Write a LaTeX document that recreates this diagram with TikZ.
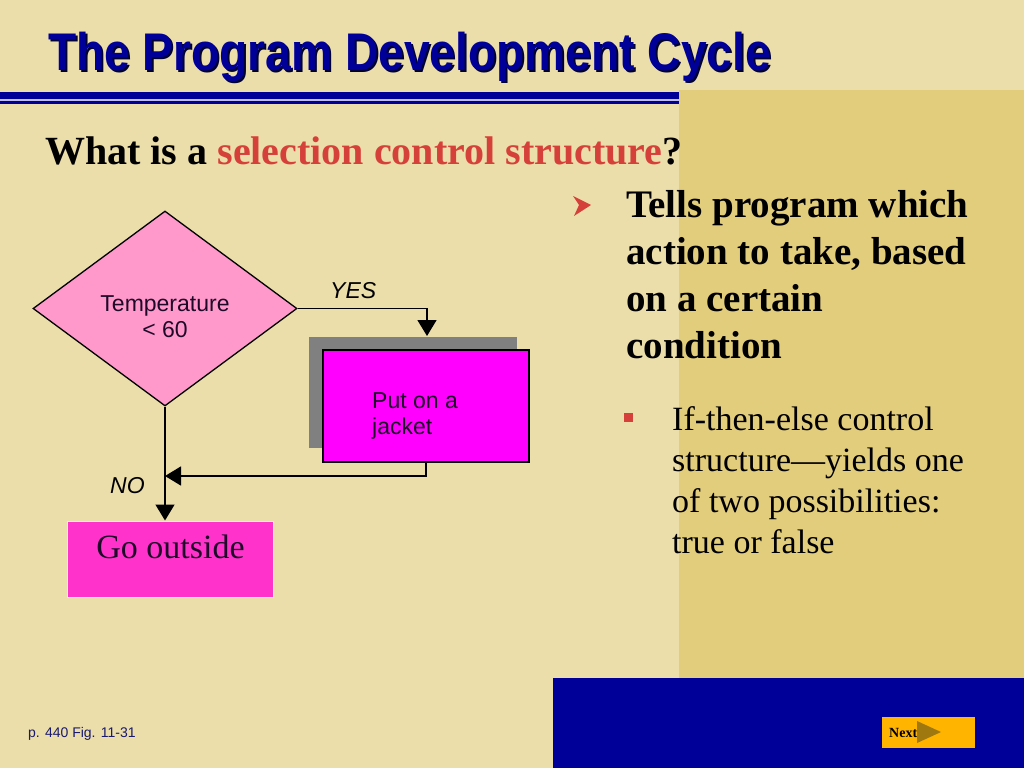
\documentclass[tikz,border=0pt]{standalone}
\usepackage{fontspec}
\setmainfont{Liberation Serif}
\setsansfont{Liberation Sans}
\usepackage{graphicx}
\usetikzlibrary{arrows.meta,shapes.geometric}

\definecolor{slidebg}{RGB}{235,222,170}
\definecolor{slidepanel}{RGB}{226,205,124}
\definecolor{slideblue}{RGB}{0,0,153}
\definecolor{titleshadow}{RGB}{0,0,50}
\definecolor{accentred}{RGB}{214,64,58}
\definecolor{condpink}{RGB}{255,153,204}
\definecolor{jacketmag}{RGB}{255,0,255}
\definecolor{outsidemag}{RGB}{255,51,204}
\definecolor{outsideline}{RGB}{255,225,240}
\definecolor{shadowgray}{RGB}{128,128,128}
\definecolor{nextorange}{RGB}{255,180,0}
\definecolor{nextarrow}{RGB}{160,120,16}
\definecolor{notenavy}{RGB}{25,25,110}
\definecolor{darktext}{RGB}{30,10,40}

\newcommand{\fsz}[2]{\fontsize{#1bp}{#2bp}\selectfont}

\begin{document}
\begin{tikzpicture}[x=1bp,y=-1bp]
\tikzset{
  decision/.style={diamond,draw=black,line width=1.3bp,fill=condpink,inner sep=0pt,minimum width=264bp,minimum height=195bp},
  process/.style={rectangle,draw=black,line width=1.5bp,fill=jacketmag,inner sep=0pt,minimum width=206bp,minimum height=112bp},
  terminal/.style={rectangle,draw=outsideline,line width=1bp,fill=outsidemag,inner sep=0pt,minimum width=205bp,minimum height=76bp},
  boxtext/.style={inner sep=0pt,align=left,text=darktext,font=\sffamily\fsz{23}{26}},
  branchlabel/.style={inner sep=0pt,anchor=base west,font=\sffamily\itshape\fsz{23}{26}},
  flow/.style={draw=black,line width=1.5bp,-{Triangle[length=16bp,width=19bp]}},
  pointtext/.style={inner sep=0pt,anchor=base west,align=left}
}
% background and panels
\fill[slidebg] (0,0) rectangle (1024,768);
\fill[slidepanel] (679,90) rectangle (1024,678);
\fill[slideblue] (553,678) rectangle (1024,768);
\fill[slideblue] (0,92) rectangle (679,99);
\fill[white!75!slideblue] (0,99) rectangle (679,101);
\fill[slideblue] (0,101) rectangle (679,103.5);

% title
\node[inner sep=0pt,anchor=base west,text=titleshadow,font=\sffamily\bfseries\fsz{53}{60}] (t_shadow) at (50,73) {\scalebox{0.87}[1]{The Program Development Cycle}};
\node[inner sep=0pt,anchor=base west,text=slideblue,font=\sffamily\bfseries\fsz{53}{60}] (t_title) at (48,71) {\scalebox{0.87}[1]{The Program Development Cycle}};
\node[pointtext,font=\bfseries\fsz{40}{48}] (t_question) at (45,164) {What is a \textcolor{accentred}{selection control structure}?};

% flowchart (multi-line texts sit on their last baseline)
\fill[shadowgray] (309,337) rectangle (517,448);
\node[decision] (n_cond) at (165,308.5) {};
\node[boxtext,align=center,anchor=base] (t_cond) at (165,337) {Temperature\\{}< 60};
\node[process] (n_jacket) at (426,406) {};
\node[boxtext,anchor=base west] (t_jacket) at (372,434) {Put on a\\jacket};
\node[terminal] (n_outside) at (170.5,559) {};
\node[inner sep=0pt,anchor=base,text=darktext,font=\fsz{34}{40}] (t_outside) at (170.5,558) {Go outside};
\coordinate (c_yes) at (427,336);
\coordinate (c_join) at (165,476);
\draw[flow] (n_cond.east) -| (c_yes);
\draw[flow] (n_jacket.south) |- (c_join);
\draw[flow] (n_cond.south) -- (n_cond.south |- n_outside.north);
\node[branchlabel] (l_yes) at (330,298) {YES};
\node[branchlabel] (l_no) at (110,493) {NO};

% bullet points
\fill[accentred] (573,196) -- (591,205) -- (574,216) -- (579,205) -- cycle;
\node[pointtext,font=\bfseries\fsz{39}{47}] (t_point) at (626,358) {Tells program which\\action to take, based\\on a certain\\condition};
\fill[accentred] (624,413) rectangle (633,422);
\node[pointtext,font=\fsz{34}{41}] (t_sub) at (672,553) {If-then-else control\\structure---yields one\\of two possibilities:\\true or false};

% footer
\node[pointtext,text=notenavy,font=\sffamily\fsz{14}{16}] (t_ref) at (28,737) {p. 440 Fig. 11-31};
\fill[nextorange] (882,717) rectangle (975,748);
\node[pointtext,font=\bfseries\fsz{14}{16}] (t_next) at (889,737) {Next};
\fill[nextarrow] (917,721) -- (941,732) -- (917,743) -- cycle;
\end{tikzpicture}
\end{document}
